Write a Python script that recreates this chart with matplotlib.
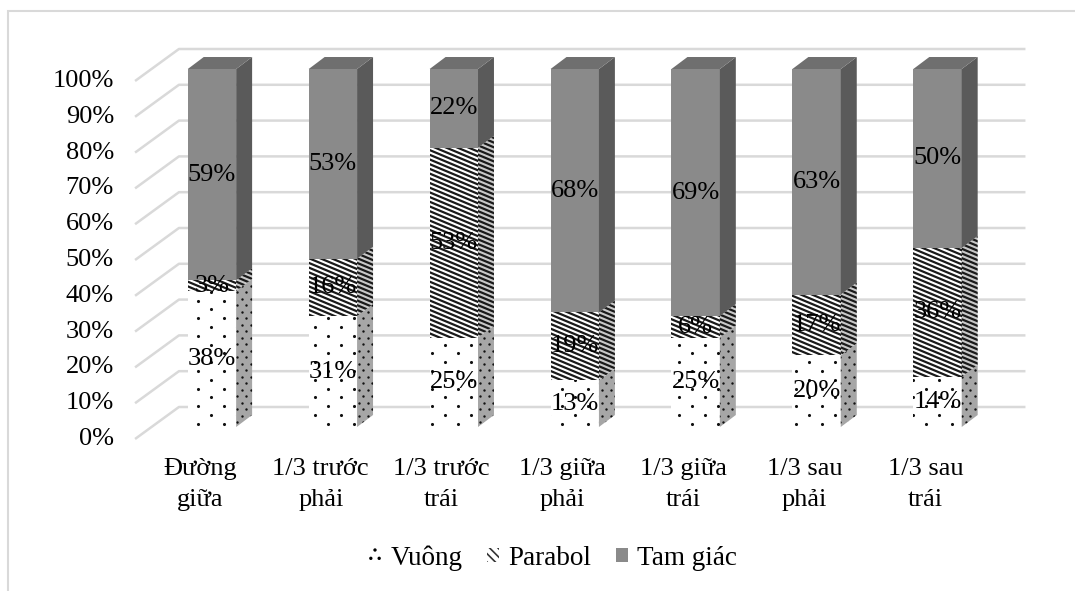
import numpy as np
import matplotlib.pyplot as plt
from matplotlib.patches import Polygon, Rectangle, Patch
from matplotlib.collections import LineCollection

# Dữ liệu: tỷ lệ (%) từng dạng mặt cắt theo vị trí
categories = ["Đường\ngiữa", "1/3 trước\nphải", "1/3 trước\ntrái", "1/3 giữa\nphải",
              "1/3 giữa\ntrái", "1/3 sau\nphải", "1/3 sau\ntrái"]
vuong = [38, 31, 25, 13, 25, 20, 14]
parabol = [3, 16, 53, 19, 6, 17, 36]
tam_giac = [59, 53, 22, 68, 69, 63, 50]
series_names = ["Vuông", "Parabol", "Tam giác"]
y_ticks = list(range(0, 101, 10))

plt.rcParams['font.family'] = ['Liberation Serif', 'DejaVu Serif']
FS = 19

# Kiểu tô cho từng chuỗi: (mặt trước, mặt bên, mẫu)
styles = [
    ("white", "#a6a6a6", "dots"),
    ("white", "#c8c8c8", "stripes"),
    ("#8a8a8a", "#5a5a5a", None),
]
top_color = "#6f6f6f"

# Độ lệch giả 3D (đơn vị dữ liệu)
bar_dx, bar_dy = 0.132, 3.35
wall_back_dx, wall_back_dy = 0.227, 5.59
wall_front_dx, wall_front_dy = -0.136, -3.35
half_w = 0.2

fig = plt.figure(figsize=(10.75, 5.91), dpi=100)
ax = fig.add_axes([151.5 / 1075, 164 / 591, 846.5 / 1075, 358 / 591])
ax.set_xlim(-0.5, 6.5)
ax.set_ylim(0, 100)
ax.axis("off")
to_px = ax.transData
to_data = ax.transData.inverted()


def fill_stripes(patch, pts):
    """Vẽ các sọc chéo xuống (kiểu Excel) cắt theo hình patch."""
    d = to_px.transform(pts)
    x0, x1 = d[:, 0].min() - 2, d[:, 0].max() + 2
    y0, y1 = d[:, 1].min() - 2, d[:, 1].max() + 2
    slope, step = 0.42, 4.7
    start = np.floor(y0 / step) * step
    segs = []
    for k in np.arange(start, y1 + slope * (x1 - x0) + step, step):
        seg = to_data.transform([(x0, k), (x1, k - slope * (x1 - x0))])
        segs.append(seg)
    lc = LineCollection(segs, colors="#1a1a1a", linewidths=1.6, zorder=3)
    ax.add_collection(lc)
    lc.set_clip_path(patch)


def fill_dots(patch, pts, dx=26.0, dy=8.8, size=5.0):
    """Vẽ mẫu chấm so le cắt theo hình patch."""
    d = to_px.transform(pts)
    x0, x1 = d[:, 0].min(), d[:, 0].max()
    y0, y1 = d[:, 1].min(), d[:, 1].max()
    xs, ys = [], []
    for r in range(int(np.floor(y0 / dy)) - 1, int(np.ceil(y1 / dy)) + 1):
        off = (r % 2) * dx / 2
        c0 = np.floor((x0 - off) / dx) * dx + off
        for x in np.arange(c0, x1 + dx, dx):
            xs.append(x + 3)
            ys.append(r * dy)
    xy = to_data.transform(np.column_stack([xs, ys]))
    sc = ax.scatter(xy[:, 0], xy[:, 1], s=size, color="#111111", linewidths=0,
                    zorder=3)
    sc.set_clip_path(patch)


def add_face(pts, color, pattern, side=False):
    poly = Polygon(pts, closed=True, facecolor=color, linewidth=0, zorder=2,
                   clip_on=False)
    ax.add_patch(poly)
    if pattern == "stripes":
        fill_stripes(poly, pts)
    elif pattern == "dots":
        if side:
            fill_dots(poly, pts, dx=9.0, dy=6.5, size=3.0)
        else:
            fill_dots(poly, pts)


# Khung viền ngoài của biểu đồ
fig.patches.append(Rectangle((8 / 1075, -0.2), 1.2, 1.2 - 11 / 591,
                             transform=fig.transFigure, fill=False,
                             edgecolor="#d9d9d9", linewidth=1.5, zorder=0))

# Lưới trên tường sau và sàn
n = len(categories)
for v in y_ticks:
    ax.plot([-0.5 + wall_front_dx, -0.5 + wall_back_dx, n - 0.5 + wall_back_dx],
            [v + wall_front_dy, v + wall_back_dy, v + wall_back_dy],
            color="#d9d9d9", linewidth=1.8, zorder=0, clip_on=False,
            solid_capstyle="butt")
    ax.text(-0.5 + wall_front_dx - 0.175, v + wall_front_dy, f"{v}%",
            ha="right", va="center", fontsize=FS, clip_on=False)

series = [vuong, parabol, tam_giac]
bottoms = [0] * n
for s, vals in enumerate(series):
    face, side, pattern = styles[s]
    for i, val in enumerate(vals):
        b, t = bottoms[i], bottoms[i] + val
        xl, xr = i - half_w, i + half_w
        add_face([(xl, b), (xr, b), (xr, t), (xl, t)], face, pattern)
        add_face([(xr, b), (xr + bar_dx, b + bar_dy),
                  (xr + bar_dx, t + bar_dy), (xr, t)], side, pattern, side=True)
        ax.text(i, (b + t) / 2, f"{val}%", ha="center", va="center",
                fontsize=FS, zorder=5)
    bottoms = [bottoms[i] + vals[i] for i in range(n)]

# Mặt trên của cột
for i in range(n):
    top = bottoms[i]
    ax.add_patch(Polygon([(i - half_w, top), (i - half_w + bar_dx, top + bar_dy),
                          (i + half_w + bar_dx, top + bar_dy), (i + half_w, top)],
                         closed=True, facecolor=top_color, linewidth=0,
                         zorder=2, clip_on=False))

# Nhãn danh mục
for i, lab in enumerate(categories):
    ax.text(i - 0.1, -8.6, lab, ha="center", va="top", fontsize=FS,
            linespacing=1.55, clip_on=False)

# Chú giải
plt.rcParams['hatch.linewidth'] = 1.2
handles = [Patch(facecolor="white", edgecolor="black", linewidth=0, hatch=".."),
           Patch(facecolor="white", edgecolor="#333333", linewidth=0,
                 hatch="\\\\\\\\"),
           Patch(facecolor="#8a8a8a", linewidth=0)]
fig.legend(handles=handles, labels=series_names,
           loc="center", bbox_to_anchor=(553 / 1075, 1 - 558 / 591),
           ncol=3, frameon=False, fontsize=19.5, handlelength=0.45,
           handleheight=0.45, handletextpad=0.35, columnspacing=0.9)

fig.savefig("out.png", dpi=100)
